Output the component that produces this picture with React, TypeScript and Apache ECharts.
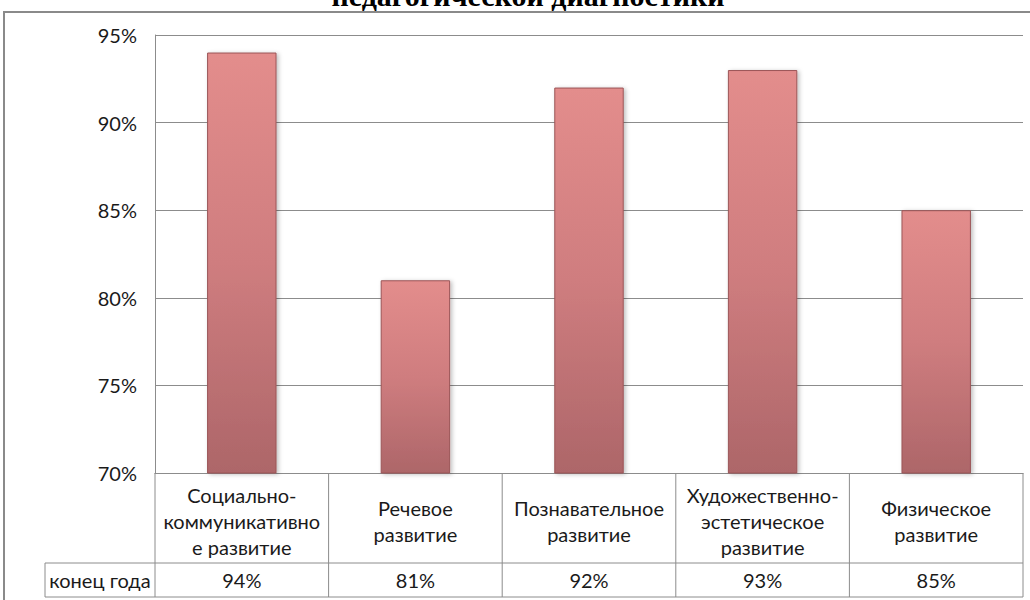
import React, { useEffect, useRef } from "react";
import * as echarts from "echarts";

const titleText = "педагогической диагностики";
const categories = [
  "Социально-\nкоммуникативно\nе развитие",
  "Речевое\nразвитие",
  "Познавательное\nразвитие",
  "Художественно-\nэстетическое\nразвитие",
  "Физическое\nразвитие",
];
const seriesName = "конец года";
const values = [94, 81, 92, 93, 85];
const yMin = 70;
const yMax = 95;
const yInterval = 5;

const W = 1030;
const H = 600;
const GRID_LEFT = 155;
const GRID_RIGHT_X = 1023;
const GRID_TOP = 35;
const GRID_BOTTOM_Y = 473;
const ROW1_BOTTOM = 563;
const ROW2_BOTTOM = 597;
const TABLE_LEFT = 45;
const LINE_COLOR = "#8c8c8c";
const FONT = "Lato";
const FS = 20;

export default function App() {
  const ref = useRef<HTMLDivElement>(null);
  useEffect(() => {
    document.body.style.margin = "0";
    const chart = echarts.init(ref.current!, null, { renderer: "svg" });
    const colW = (GRID_RIGHT_X - GRID_LEFT) / categories.length;
    const lines: any[] = [];
    const hl = (x1: number, x2: number, y: number) =>
      lines.push({ type: "line", shape: { x1, y1: y, x2, y2: y }, style: { stroke: LINE_COLOR, lineWidth: 1 } });
    const vl = (x: number, y1: number, y2: number) =>
      lines.push({ type: "line", shape: { x1: x, y1, x2: x, y2 }, style: { stroke: LINE_COLOR, lineWidth: 1 } });
    hl(TABLE_LEFT, GRID_RIGHT_X, ROW1_BOTTOM);
    hl(TABLE_LEFT, GRID_RIGHT_X, ROW2_BOTTOM);
    for (let i = 0; i <= categories.length; i++) vl(GRID_LEFT + i * colW, GRID_BOTTOM_Y, ROW2_BOTTOM);
    vl(TABLE_LEFT, ROW1_BOTTOM, ROW2_BOTTOM);

    chart.setOption({
      animation: false,
      backgroundColor: "#ffffff",
      grid: { left: GRID_LEFT, right: W - GRID_RIGHT_X, top: GRID_TOP, bottom: H - GRID_BOTTOM_Y, containLabel: false },
      xAxis: [
        {
          type: "category",
          data: categories,
          axisLine: { show: true, lineStyle: { color: LINE_COLOR } },
          axisTick: { show: false },
          axisLabel: {
            interval: 0,
            margin: 48,
            verticalAlign: "middle",
            fontFamily: FONT,
            fontSize: FS,
            lineHeight: 26,
            color: "#1a1a1a",
          },
        },
        {
          type: "category",
          data: categories,
          position: "bottom",
          axisLine: { show: false },
          axisTick: { show: false },
          axisLabel: {
            interval: 0,
            margin: 107,
            verticalAlign: "middle",
            fontFamily: FONT,
            fontSize: FS,
            color: "#1a1a1a",
            formatter: (_v: string, i: number) => values[i] + "%",
          },
        },
      ],
      yAxis: {
        type: "value",
        min: yMin,
        max: yMax,
        interval: yInterval,
        axisLine: { show: true, lineStyle: { color: LINE_COLOR } },
        axisTick: { show: false },
        splitLine: { lineStyle: { color: LINE_COLOR, width: 1 } },
        axisLabel: {
          margin: 18,
          fontFamily: FONT,
          fontSize: FS,
          color: "#1a1a1a",
          formatter: (v: number) => v + "%",
        },
      },
      series: [
        {
          name: seriesName,
          type: "bar",
          data: values,
          barWidth: "40%",
          itemStyle: {
            color: new echarts.graphic.LinearGradient(0, 0, 0, 1, [
              { offset: 0, color: "#e38d8c" },
              { offset: 0.5, color: "#cf7d7f" },
              { offset: 1, color: "#ad6669" },
            ]),
            borderColor: "#9b5557",
            borderWidth: 1,
            shadowColor: "rgba(0,0,0,0.25)",
            shadowBlur: 4,
            shadowOffsetX: 2,
            shadowOffsetY: 1,
          },
        },
      ],
      graphic: [
        {
          type: "rect",
          shape: { x: 4, y: 12, width: W + 10, height: H },
          style: { fill: "none", stroke: "#8a8a8a", lineWidth: 2 },
          z: 10,
        },
        {
          type: "text",
          x: 528,
          y: 10,
          style: {
            text: titleText,
            fontFamily: "Liberation Serif",
            fontWeight: "bold",
            fontSize: 30,
            fill: "#000",
            align: "center",
            verticalAlign: "bottom",
          },
          z: 11,
        },
        {
          type: "text",
          x: (TABLE_LEFT + GRID_LEFT) / 2,
          y: (ROW1_BOTTOM + ROW2_BOTTOM) / 2,
          style: {
            text: seriesName,
            fontFamily: FONT,
            fontSize: FS,
            fill: "#1a1a1a",
            align: "center",
            verticalAlign: "middle",
          },
        },
        ...lines,
      ],
    });
    return () => chart.dispose();
  }, []);
  return <div ref={ref} style={{ position: "absolute", left: 0, top: 0, width: W, height: H }} />;
}
